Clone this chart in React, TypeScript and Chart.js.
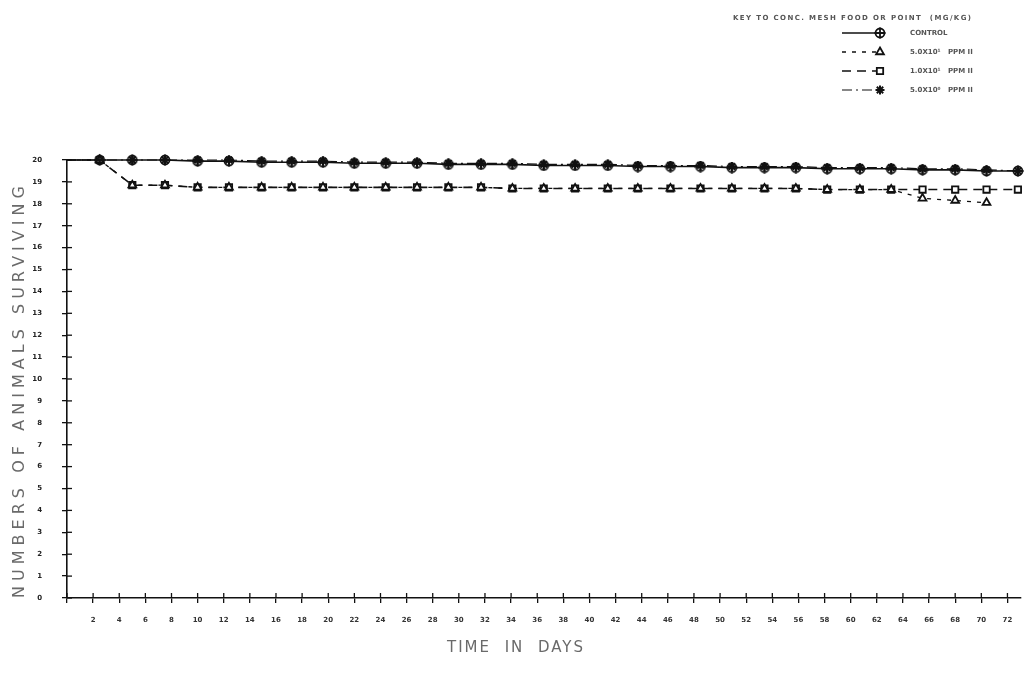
import React, { useEffect, useRef } from 'react';
import { Chart, registerables } from 'chart.js';
import { drawPoint } from 'chart.js/helpers';

Chart.register(...registerables);

// ---- data ----
const days = [0, 2.5, 5, 7.5, 10, 12.4, 14.9, 17.2, 19.6, 22, 24.4, 26.8, 29.2, 31.7, 34.1, 36.5, 38.9, 41.4, 43.7, 46.2, 48.5, 50.9, 53.4, 55.8, 58.2, 60.7, 63.1, 65.5, 68, 70.4, 72.8];

const controlValues = [20, 20, 20, 20, 19.95, 19.95, 19.9, 19.9, 19.9, 19.85, 19.85, 19.85, 19.8, 19.8, 19.8, 19.75, 19.75, 19.75, 19.7, 19.7, 19.7, 19.65, 19.65, 19.65, 19.6, 19.6, 19.6, 19.55, 19.55, 19.5, 19.5];

const triangleValues = [20, 20, 18.85, 18.85, 18.75, 18.75, 18.75, 18.75, 18.75, 18.75, 18.75, 18.75, 18.75, 18.75, 18.7, 18.7, 18.7, 18.7, 18.7, 18.7, 18.7, 18.7, 18.7, 18.7, 18.65, 18.65, 18.65, 18.25, 18.15, 18.05, null];

const squareValues = [20, 20, 18.85, 18.85, 18.75, 18.75, 18.75, 18.75, 18.75, 18.75, 18.75, 18.75, 18.75, 18.75, 18.7, 18.7, 18.7, 18.7, 18.7, 18.7, 18.7, 18.7, 18.7, 18.7, 18.65, 18.65, 18.65, 18.65, 18.65, 18.65, 18.65];

const starValues = [20, 20, 20, 20, 20, 20, 19.95, 19.95, 19.95, 19.9, 19.9, 19.9, 19.85, 19.85, 19.85, 19.8, 19.8, 19.8, 19.75, 19.75, 19.75, 19.7, 19.7, 19.7, 19.65, 19.65, 19.65, 19.6, 19.6, 19.55, 19.5];

const seriesLabels = ['CONTROL', '5.0X10\u00B9   PPM II', '1.0X10\u00B9   PPM II', '5.0X10\u2070   PPM II'];
const legendTitle = 'KEY TO CONC. MESH FOOD OR POINT  (MG/KG)';
const yTitle = 'NUMBERS OF ANIMALS SURVIVING';
const xTitle = 'TIME  IN  DAYS';

const INK = '#111';

function makeCrossCircle(): HTMLCanvasElement {
  const c = document.createElement('canvas');
  c.width = 12;
  c.height = 12;
  const g = c.getContext('2d')!;
  g.strokeStyle = INK;
  g.lineWidth = 1.8;
  g.beginPath();
  g.arc(6, 6, 4.5, 0, Math.PI * 2);
  g.stroke();
  g.beginPath();
  g.moveTo(6, 0.5);
  g.lineTo(6, 11.5);
  g.moveTo(0.5, 6);
  g.lineTo(11.5, 6);
  g.stroke();
  return c;
}

function spacedText(ctx: CanvasRenderingContext2D, text: string, x: number, y: number, width: number) {
  (ctx as any).letterSpacing = '0px';
  const w = ctx.measureText(text).width;
  const sp = Math.max(0, (width - w) / Math.max(1, text.length - 1));
  (ctx as any).letterSpacing = sp + 'px';
  ctx.textAlign = 'left';
  ctx.fillText(text, x, y);
  (ctx as any).letterSpacing = '0px';
}

const decorPlugin = {
  id: 'decor',
  afterDraw(chart: any) {
    const ctx: CanvasRenderingContext2D = chart.ctx;
    const area = chart.chartArea;
    const xs = chart.scales.x;
    const ys = chart.scales.y;
    ctx.save();
    // inner tick marks (cross style)
    ctx.strokeStyle = INK;
    ctx.lineWidth = 1.3;
    ys.ticks.forEach((t: any) => {
      const py = ys.getPixelForValue(t.value);
      ctx.beginPath();
      ctx.moveTo(area.left, py);
      ctx.lineTo(area.left + 5, py);
      ctx.stroke();
    });
    xs.ticks.forEach((t: any) => {
      const px = xs.getPixelForValue(t.value);
      ctx.beginPath();
      ctx.moveTo(px, area.bottom);
      ctx.lineTo(px, area.bottom - 5);
      ctx.stroke();
    });

    // axis titles
    ctx.fillStyle = '#6a6a6a';
    ctx.font = '16px "DejaVu Sans"';
    ctx.textBaseline = 'middle';
    ctx.save();
    ctx.translate(20, area.bottom);
    ctx.rotate(-Math.PI / 2);
    spacedText(ctx, yTitle, 0, 0, 412);
    ctx.restore();
    ctx.font = '15px "DejaVu Sans"';
    spacedText(ctx, xTitle, 447, 648, 136);

    // key / legend
    ctx.fillStyle = '#555';
    ctx.font = 'bold 7px "DejaVu Sans"';
    spacedText(ctx, legendTitle, 733, 18, 238);
    const markerX = 880;
    chart.data.datasets.forEach((ds: any, i: number) => {
      const y = 33 + i * 19;
      ctx.save();
      ctx.strokeStyle = INK;
      ctx.lineWidth = ds.borderWidth;
      ctx.setLineDash(ds.borderDash || []);
      ctx.beginPath();
      ctx.moveTo(842, y);
      ctx.lineTo(markerX, y);
      ctx.stroke();
      ctx.setLineDash([]);
      ctx.fillStyle = ds.pointBackgroundColor;
      ctx.strokeStyle = INK;
      ctx.lineWidth = ds.pointBorderWidth;
      drawPoint(ctx, { pointStyle: ds.pointStyle, radius: 4.5, rotation: 0, borderWidth: ds.pointBorderWidth }, markerX, y);
      ctx.restore();
      ctx.fillStyle = '#555';
      ctx.font = 'bold 7px "DejaVu Sans"';
      ctx.textAlign = 'left';
      ctx.textBaseline = 'middle';
      ctx.fillText(seriesLabels[i], 910, y);
    });
    ctx.restore();
  },
};

function radii() {
  return days.map((_, i) => (i === 0 ? 0 : 4.5));
}

export default function App() {
  const ref = useRef<HTMLCanvasElement | null>(null);
  useEffect(() => {
    document.body.style.margin = '0';
    const canvas = ref.current;
    if (!canvas) return;
    const crossCircle = makeCrossCircle();
    const mk = (vals: (number | null)[]) => days.map((d, i) => ({ x: d, y: vals[i] }));
    const chart = new Chart(canvas, {
      type: 'line',
      data: {
        datasets: [
          {
            label: seriesLabels[0],
            data: mk(controlValues),
            borderColor: INK,
            borderWidth: 1.6,
            pointStyle: crossCircle,
            pointRadius: radii(),
            pointBackgroundColor: '#fff',
            pointBorderColor: INK,
            pointBorderWidth: 2,
            clip: false,
          },
          {
            label: seriesLabels[1],
            data: mk(triangleValues),
            borderColor: INK,
            borderWidth: 1.3,
            borderDash: [4, 6],
            pointStyle: 'triangle',
            pointRadius: radii(),
            pointBackgroundColor: '#fff',
            pointBorderColor: INK,
            pointBorderWidth: 1.8,
            spanGaps: false,
            clip: false,
          },
          {
            label: seriesLabels[2],
            data: mk(squareValues),
            borderColor: INK,
            borderWidth: 1.6,
            borderDash: [9, 6],
            pointStyle: 'rect',
            pointRadius: radii(),
            pointBackgroundColor: '#fff',
            pointBorderColor: INK,
            pointBorderWidth: 1.8,
            clip: false,
          },
          {
            label: seriesLabels[3],
            data: mk(starValues),
            borderColor: INK,
            borderWidth: 1.2,
            borderDash: [10, 4, 2, 4],
            pointStyle: 'star',
            pointRadius: radii(),
            pointBackgroundColor: INK,
            pointBorderColor: INK,
            pointBorderWidth: 2,
            clip: false,
          },
        ],
      } as any,
      options: {
        responsive: false,
        animation: false,
        layout: { padding: { top: 160, right: 4, left: 0, bottom: 0 } },
        plugins: { legend: { display: false }, tooltip: { enabled: false } },
        scales: {
          x: {
            type: 'linear',
            min: 0,
            max: 73,
            afterFit: (s: any) => {
              s.height = 90;
            },
            grid: { drawOnChartArea: false, tickLength: 5, color: INK, lineWidth: 1.3 },
            border: { color: INK, width: 1.6 },
            ticks: {
              stepSize: 2,
              includeBounds: false,
              autoSkip: false,
              maxRotation: 0,
              padding: 13,
              color: '#333',
              font: { family: '"DejaVu Sans"', size: 7, weight: 'bold' },
              callback: (v: any) => (v === 0 ? '' : String(v)),
            },
          },
          y: {
            min: 0,
            max: 20,
            afterFit: (s: any) => {
              s.width = 67;
            },
            grid: { drawOnChartArea: false, tickLength: 5, color: INK, lineWidth: 1.3 },
            border: { color: INK, width: 1.6 },
            ticks: {
              stepSize: 1,
              autoSkip: false,
              padding: 20,
              color: '#222',
              font: { family: '"DejaVu Sans"', size: 7, weight: 'bold' },
            },
          },
        },
      } as any,
      plugins: [decorPlugin],
    });
    return () => chart.destroy();
  }, []);
  return (
    <div style={{ width: 1027, height: 688, background: '#fff' }}>
      <canvas ref={ref} width={1027} height={688} style={{ display: 'block' }} />
    </div>
  );
}
